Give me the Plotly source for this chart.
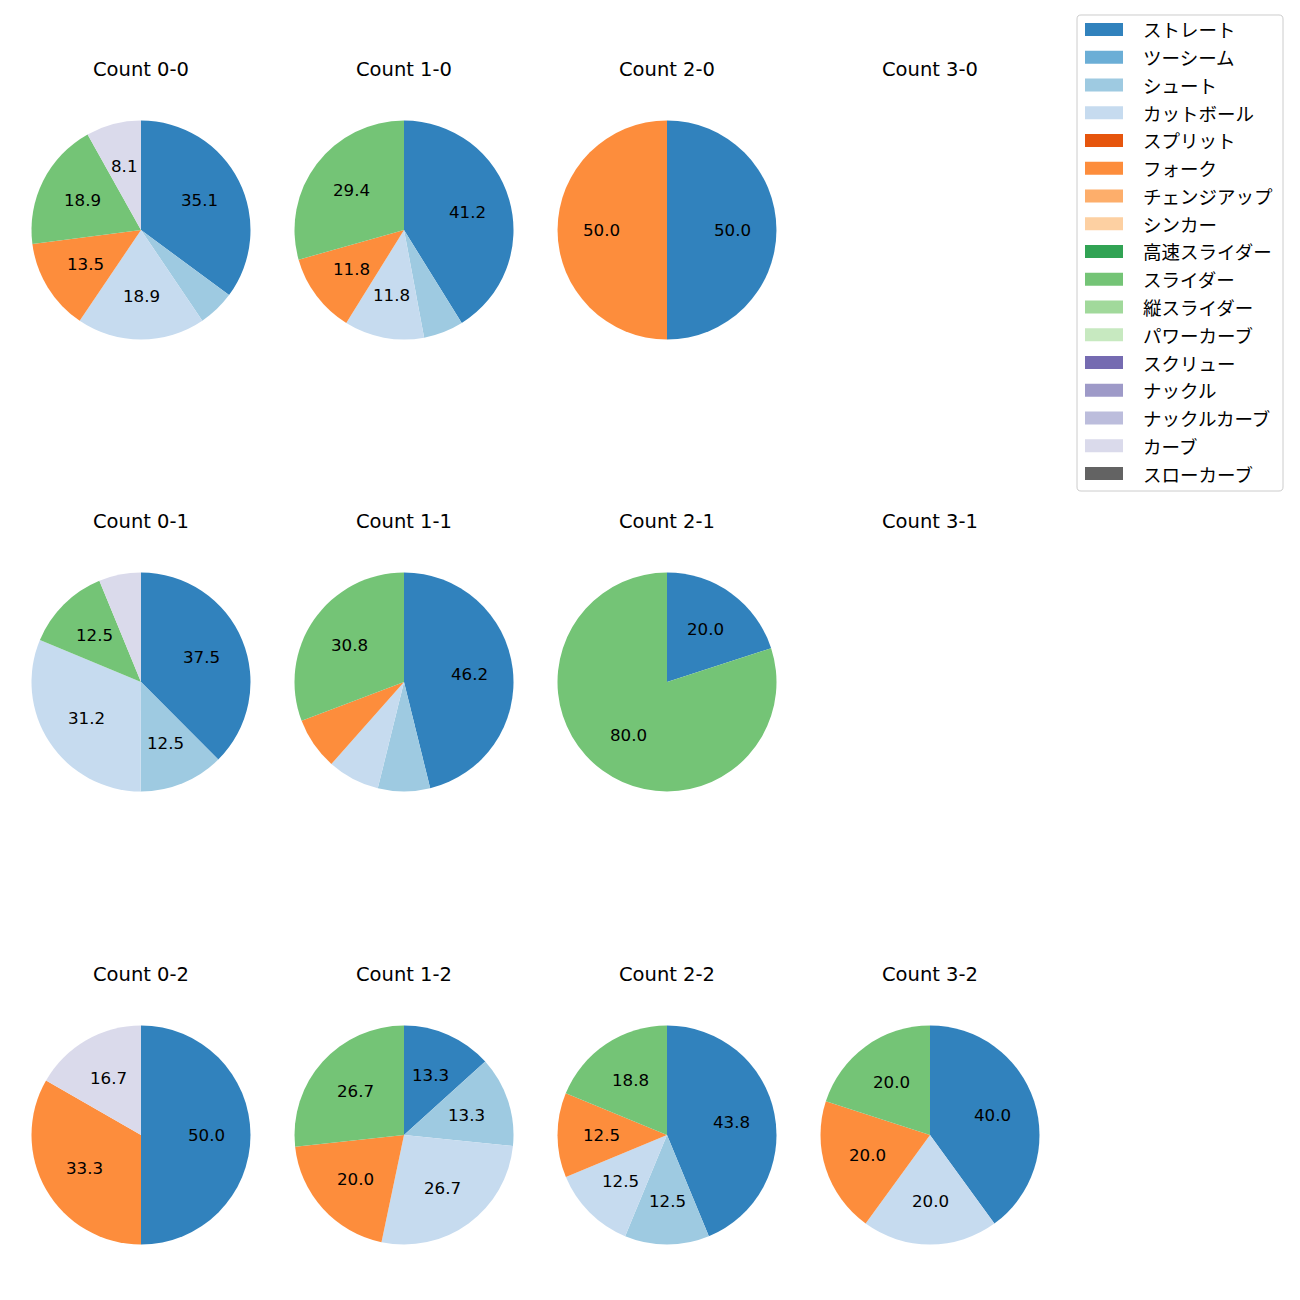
import math
import plotly.graph_objects as go

pitch_types = ["ストレート", "ツーシーム", "シュート", "カットボール", "スプリット", "フォーク",
               "チェンジアップ", "シンカー", "高速スライダー", "スライダー", "縦スライダー",
               "パワーカーブ", "スクリュー", "ナックル", "ナックルカーブ", "カーブ", "スローカーブ"]
colors = ["#3182bd", "#6baed6", "#9ecae1", "#c6dbef", "#e6550d", "#fd8d3c", "#fdae6b", "#fdd0a2",
          "#31a354", "#74c476", "#a1d99b", "#c7e9c0", "#756bb1", "#9e9ac8", "#bcbddc", "#dadaeb",
          "#636363"]

count_titles = ["Count 0-0", "Count 1-0", "Count 2-0", "Count 3-0",
                "Count 0-1", "Count 1-1", "Count 2-1", "Count 3-1",
                "Count 0-2", "Count 1-2", "Count 2-2", "Count 3-2"]

# percentages per pitch type (order of pitch_types)
c00 = [35.1, 0, 5.4, 18.9, 0, 13.5, 0, 0, 0, 18.9, 0, 0, 0, 0, 0, 8.1, 0]
c10 = [41.2, 0, 5.9, 11.8, 0, 11.8, 0, 0, 0, 29.4, 0, 0, 0, 0, 0, 0, 0]
c20 = [50.0, 0, 0, 0, 0, 50.0, 0, 0, 0, 0, 0, 0, 0, 0, 0, 0, 0]
c30 = []
c01 = [37.5, 0, 12.5, 31.2, 0, 0, 0, 0, 0, 12.5, 0, 0, 0, 0, 0, 6.2, 0]
c11 = [46.2, 0, 7.7, 7.7, 0, 7.7, 0, 0, 0, 30.8, 0, 0, 0, 0, 0, 0, 0]
c21 = [20.0, 0, 0, 0, 0, 0, 0, 0, 0, 80.0, 0, 0, 0, 0, 0, 0, 0]
c31 = []
c02 = [50.0, 0, 0, 0, 0, 33.3, 0, 0, 0, 0, 0, 0, 0, 0, 0, 16.7, 0]
c12 = [13.3, 0, 13.3, 26.7, 0, 20.0, 0, 0, 0, 26.7, 0, 0, 0, 0, 0, 0, 0]
c22 = [43.8, 0, 12.5, 12.5, 0, 12.5, 0, 0, 0, 18.8, 0, 0, 0, 0, 0, 0, 0]
c32 = [40.0, 0, 0, 20.0, 0, 20.0, 0, 0, 0, 20.0, 0, 0, 0, 0, 0, 0, 0]
all_counts = [c00, c10, c20, c30, c01, c11, c21, c31, c02, c12, c22, c32]

W = H = 1300
OFF = 8  # page body margin
col_cx = [141, 404, 667, 930]
row_cy = [230, 682, 1135]
R = 109.5
title_offset = 161
FONT = "DejaVu Sans, Noto Sans CJK JP"
JFONT = "Noto Sans CJK JP"


def px(x):
    return (x - OFF) / W


def py(y):
    return 1 - (y - OFF) / H


fig = go.Figure()
annotations = []
for idx, (title, vals) in enumerate(zip(count_titles, all_counts)):
    r_i, c_i = divmod(idx, 4)
    cx, cy = col_cx[c_i], row_cy[r_i]
    annotations.append(dict(x=px(cx), y=py(cy - title_offset), xref="paper", yref="paper",
                            text=title, showarrow=False, xanchor="center", yanchor="middle",
                            font=dict(size=19.5, color="#000000", family=FONT)))
    if not vals:
        continue
    labs = [p for p, v in zip(pitch_types, vals) if v > 0]
    vs = [v for v in vals if v > 0]
    cols = [c for c, v in zip(colors, vals) if v > 0]
    fig.add_trace(go.Pie(labels=labs, values=vs, marker=dict(colors=cols, line=dict(width=0)),
                         sort=False, direction="clockwise", rotation=0, textinfo="none",
                         hoverinfo="label+percent", showlegend=False,
                         domain=dict(x=[px(cx - R), px(cx + R)],
                                     y=[py(cy + R), py(cy - R)])))
    total = sum(vs)
    cum = 0.0
    for v in vs:
        theta = 2 * math.pi * (cum + v / 2) / total
        cum += v
        pct = 100 * v / total
        if pct < 8:
            continue
        x = cx + 0.6 * R * math.sin(theta)
        y = cy - 0.6 * R * math.cos(theta)
        annotations.append(dict(x=px(x), y=py(y), xref="paper", yref="paper",
                                text=f"{pct:.1f}", showarrow=False, xanchor="center",
                                yanchor="middle", font=dict(size=16.7, color="#000000", family=FONT)))

# manual legend
shapes = []
lx0, lx1, ly0, ly1 = 1077, 1283, 15, 491
rr = 4
pts = [("M", lx0 + rr, ly0), ("L", lx1 - rr, ly0), ("Q", lx1, ly0, lx1, ly0 + rr),
       ("L", lx1, ly1 - rr), ("Q", lx1, ly1, lx1 - rr, ly1), ("L", lx0 + rr, ly1),
       ("Q", lx0, ly1, lx0, ly1 - rr), ("L", lx0, ly0 + rr), ("Q", lx0, ly0, lx0 + rr, ly0)]
segs = []
for p in pts:
    cmd, coords = p[0], p[1:]
    pairs = [f"{px(coords[k]):.5f},{py(coords[k + 1]):.5f}" for k in range(0, len(coords), 2)]
    segs.append(cmd + " " + " ".join(pairs))
path = " ".join(segs) + " Z"
shapes.append(dict(type="path", xref="paper", yref="paper", path=path,
                   line=dict(color="#cccccc", width=1), fillcolor="rgba(255,255,255,0.8)"))
first_y, step = 29.5, 27.75
for i, (name, col) in enumerate(zip(pitch_types, colors)):
    yc = first_y + step * i
    shapes.append(dict(type="rect", xref="paper", yref="paper",
                       x0=px(1085), x1=px(1123), y0=py(yc + 6.5), y1=py(yc - 6.5),
                       fillcolor=col, line=dict(width=0)))
    annotations.append(dict(x=px(1141), y=py(yc), xref="paper", yref="paper", text=name,
                            showarrow=False, xanchor="left", yanchor="middle",
                            font=dict(size=18.5, color="#000000", family=JFONT)))

fig.update_layout(width=W, height=H, margin=dict(l=0, r=0, t=0, b=0),
                  paper_bgcolor="white", plot_bgcolor="white",
                  annotations=annotations, shapes=shapes,
                  font=dict(family=FONT), showlegend=False)
fig.write_html("out.html")
